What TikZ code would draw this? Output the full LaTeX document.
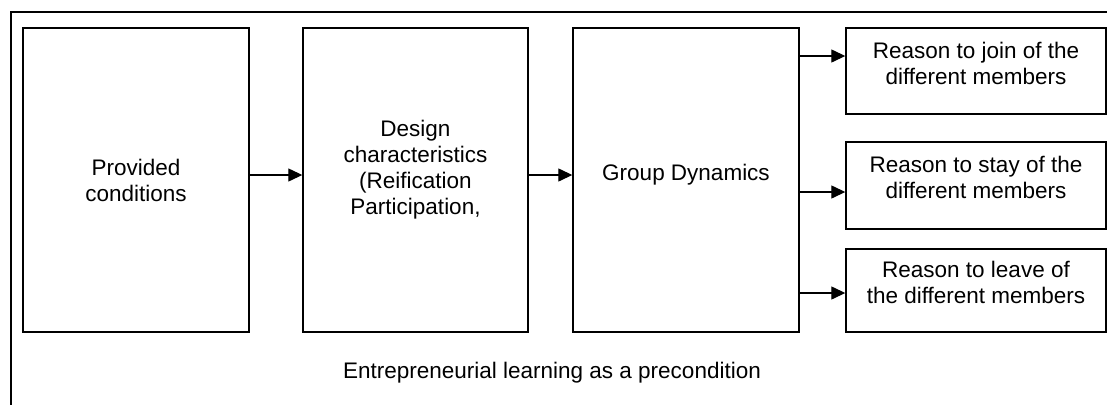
\documentclass[tikz,border=0pt]{standalone}
\usepackage{fontspec}
\setmainfont{Liberation Sans}
\usetikzlibrary{arrows.meta}

\begin{document}
\begin{tikzpicture}[x=1pt, y=-1pt,
        box/.style={draw, line width=1.4pt, inner sep=0pt},
        txt/.style={align=center, inner sep=0pt, font=\fontsize{22.5}{26}\selectfont}]
        \useasboundingbox (0,0) rectangle (1107,405);
        \draw [line width=1.8pt] (1107,12) -- (11,12) -- (11,405);
        % main chain
        \node [box, minimum width=226pt, minimum height=304pt] (cond) at (136,180) {};
        \node [box, minimum width=225pt, minimum height=304pt] (design) at (415.5,180) {};
        \node [box, minimum width=226pt, minimum height=304pt] (group) at (686,180) {};
        \node [txt] (cond-t) at (cond.center) {Provided\\conditions};
        \node [txt] (design-t) at ([yshift=10pt]design.center) {Design\\characteristics\\(Reification\\Participation,};
        \node [txt] (group-t) at ([yshift=5pt]group.center) {Group Dynamics};
        % reasons
        \node [box, minimum width=260pt, minimum height=86pt] (join) at (976,71) {};
        \node [box, minimum width=260pt, minimum height=87pt] (stay) at (976,185.5) {};
        \node [box, minimum width=260pt, minimum height=83pt] (leave) at (976,290.5) {};
        \node [txt] (join-t) at ([yshift=8pt]join.center) {Reason to join of the\\different members};
        \node [txt] (stay-t) at ([yshift=8pt]stay.center) {Reason to stay of the\\different members};
        \node [txt] (leave-t) at ([yshift=8pt]leave.center) {Reason to leave of\\the different members};
        \node [txt] (pre) at (552,373) {Entrepreneurial learning as a precondition};
        \coordinate (jointip) at ([yshift=15pt]join.west);
        \coordinate (staytip) at ([yshift=-6.5pt]stay.west);
        \coordinate (leavetip) at ([yshift=-2.5pt]leave.west);
        \tikzset{arrows={-Triangle[length=14pt, width=13pt, black, fill=black]}}
        \draw [line width=1.3pt] ([yshift=5pt]cond.east) -- ([yshift=5pt]design.west);
        \draw [line width=1.3pt] ([yshift=5pt]design.east) -- ([yshift=5pt]group.west);
        \draw [line width=1.3pt] (group.east |- jointip) -- (jointip);
        \draw [line width=1.3pt] (group.east |- staytip) -- (staytip);
        \draw [line width=1.3pt] (group.east |- leavetip) -- (leavetip);
    \end{tikzpicture}
\end{document}
